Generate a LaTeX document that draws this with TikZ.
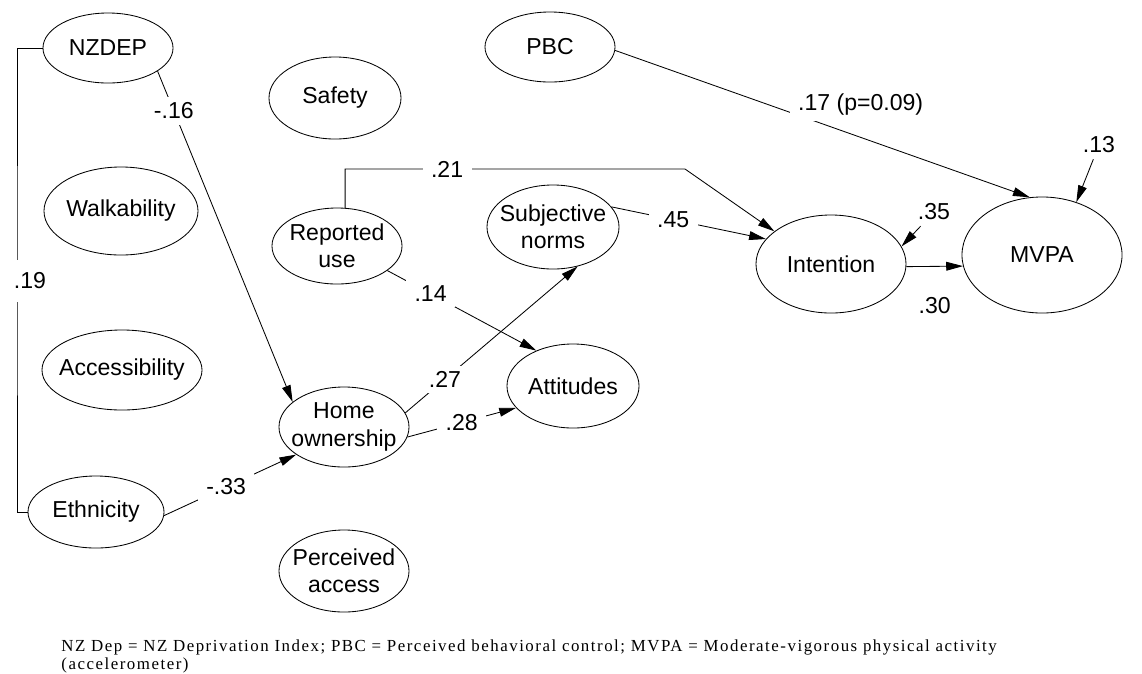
\documentclass[tikz,border=0pt]{standalone}
\usepackage{fontspec}
\setmainfont{Liberation Sans}
\newfontfamily\notefont[LetterSpace=9]{Liberation Serif}
\usepackage{tikz}
\usetikzlibrary{arrows.meta, shapes}

\tikzset{
  latent/.style = {draw, ellipse, inner sep=-1cm, align=center},
  coef/.style   = {fill=white, inner xsep=6pt, inner ysep=4pt},
  link/.style   = {-{Triangle[length=0.42cm, width=0.22cm]}},
}

\begin{document}
\begin{tikzpicture}[x=0.025cm, y=-0.025cm, line width=0.6pt,
                    font=\fontsize{16.4}{19.5}\selectfont]

\useasboundingbox (0,0) rectangle (1142,673);

\node [latent, minimum width=3.25cm, minimum height=1.75cm] at ( 108,  48) (nzdep)     {NZDEP};
\node [latent, minimum width=3.30cm, minimum height=2.05cm] at ( 335,  98) (safety)    {Safety};
\node [latent, minimum width=3.85cm, minimum height=2.20cm] at ( 121, 211) (walk)      {Walkability};
\node [latent, minimum width=3.25cm, minimum height=1.90cm] at ( 337, 246) (reported)  {Reported\\use};
\node [latent, minimum width=4.00cm, minimum height=2.00cm] at ( 122, 370) (access)    {Accessibility};
\node [latent, minimum width=3.25cm, minimum height=2.00cm] at ( 344, 427) (home)      {Home\\ownership};
\node [latent, minimum width=3.40cm, minimum height=1.80cm] at (  96, 512) (ethnicity) {Ethnicity};
\node [latent, minimum width=3.25cm, minimum height=2.05cm] at ( 344, 571) (perceived) {Perceived\\access};
\node [latent, minimum width=3.30cm, minimum height=2.10cm] at ( 553, 227) (norms)     {Subjective\\norms};
\node [latent, minimum width=3.30cm, minimum height=2.10cm] at ( 573, 386) (attitudes) {Attitudes};
\node [latent, minimum width=3.25cm, minimum height=1.75cm] at ( 550,  47) (pbc)       {PBC};
\node [latent, minimum width=3.75cm, minimum height=2.45cm] at ( 831, 264) (intention) {Intention};
\node [latent, minimum width=4.00cm, minimum height=2.90cm] at (1042, 255) (mvpa)      {MVPA};

\coordinate (c19) at ( 17, 281);
\coordinate (c21) at (685, 169);

\path [draw] (nzdep.west) -| (c19) |- (ethnicity.west);
\node [coef, inner ysep=9pt] at (30, 281) (l19) {.19};

\path [link] (nzdep.-25)    edge node [coef, pos=0.12] {-.16} (home.154);
\path [link] (ethnicity.-3) edge node [coef, pos=0.47] {-.33} (home.210);
\path [link] (reported.-26) edge node [coef, pos=0.29] {.14}  (attitudes.136);
\path [link] (home.13)      edge node [coef, pos=0.23] {.27}  (norms.-58);
\path [link] (home.-9)      edge node [coef, pos=0.50] {.28}  (attitudes.201);
\path [link] (norms.19)     edge node [coef, pos=0.40] {.45}  (intention.159);
\path [draw, link] (reported.78) |- node [coef, pos=0.65] {.21} (c21) -- (intention.150);
\path [link] (pbc.-3)       edge node [coef, pos=0.42, anchor=west, yshift=0.18cm] {.17 (p=0.09)} (mvpa.102);
\path [link] (intention.-2) edge node [coef, midway, yshift=-0.98cm] {.30} (mvpa.188);

\node [coef] at ( 934, 212) (e35) {.35};
\node [coef] at (1099, 145) (e13) {.13};
\path [link] (e35) edge (intention.14);
\path [link] (e13) edge (mvpa.57);

\node [anchor=north west, align=left, inner sep=0pt,
       font=\notefont\fontsize{12}{12.8}\selectfont] at (61, 639) (note)
  {NZ Dep = NZ Deprivation Index; PBC = Perceived behavioral control; MVPA = Moderate-vigorous physical activity\\(accelerometer)};

\end{tikzpicture}
\end{document}
